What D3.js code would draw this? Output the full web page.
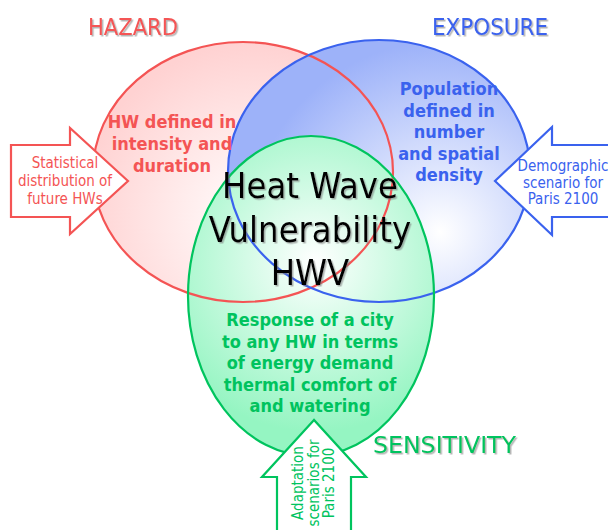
<!DOCTYPE html>
<html>
<head>
<meta charset="utf-8">
<script src="https://cdn.jsdelivr.net/npm/d3@7/dist/d3.min.js"></script>
<style>
  body { margin: 0; background: #fff; }
  text { font-family: "DejaVu Sans Condensed", "DejaVu Sans", sans-serif; font-stretch: condensed; }
</style>
</head>
<body>
<div id="chart"></div>
<script>
// the three sets of the diagram
var setNames = ["HAZARD", "EXPOSURE", "SENSITIVITY"];
var setLines = [
  ["HW defined in", "intensity and", "duration"],
  ["Population", "defined in", "number", "and spatial", "density"],
  ["Response of a city", "to any HW in terms", "of energy demand", "thermal comfort of", "and watering"]
];
var centerLines = ["Heat Wave", "Vulnerability", "HWV"];
var arrowLines = [
  ["Statistical", "distribution of", "future HWs"],
  ["Demographic", "scenario for", "Paris 2100"],
  ["Adaptation", "scenarios for", "Paris 2100"]
];
var strokeColors = ["#f45454", "#3a62ee", "#00c45e"];
var edgeColors = ["#ffd2d2", "#9db2f9", "#95f5c2"];
var textColors = ["#f45454", "#3a62ee", "#00c35e"];

var width = 608, height = 530;

// layout of the ellipses (pixel space)
var ellipses = [
  {cx: 243, cy: 172, rx: 150, ry: 130, gx: 255, gy: 218, gr: 175},
  {cx: 379, cy: 171, rx: 151, ry: 131, gx: 440, gy: 232, gr: 190},
  {cx: 311, cy: 296, rx: 123, ry: 160, gx: 315, gy: 262, gr: 170}
];

var svg = d3.select("#chart").append("svg")
    .attr("width", width)
    .attr("height", height);

var defs = svg.append("defs");

ellipses.forEach(function(e, i) {
  var g = defs.append("radialGradient")
      .attr("id", "grad" + i)
      .attr("gradientUnits", "userSpaceOnUse")
      .attr("cx", e.gx).attr("cy", e.gy).attr("r", e.gr);
  g.append("stop").attr("offset", "0%").attr("stop-color", "#ffffff");
  g.append("stop").attr("offset", "100%").attr("stop-color", edgeColors[i]);
});

var shadow = defs.append("filter").attr("id", "shadow")
    .attr("x", "-10%").attr("y", "-20%").attr("width", "130%").attr("height", "150%");
shadow.append("feDropShadow")
    .attr("dx", 1.5).attr("dy", 1.5).attr("stdDeviation", 0.6)
    .attr("flood-color", "#777").attr("flood-opacity", 0.55);

//fills first, outlines over all fills
svg.append("g").selectAll("ellipse")
    .data(ellipses)
  .enter().append("ellipse")
    .attr("cx", function(d) { return d.cx; })
    .attr("cy", function(d) { return d.cy; })
    .attr("rx", function(d) { return d.rx; })
    .attr("ry", function(d) { return d.ry; })
    .attr("fill", function(d, i) { return "url(#grad" + i + ")"; });

svg.append("g").selectAll("ellipse")
    .data(ellipses)
  .enter().append("ellipse")
    .attr("cx", function(d) { return d.cx; })
    .attr("cy", function(d) { return d.cy; })
    .attr("rx", function(d) { return d.rx; })
    .attr("ry", function(d) { return d.ry; })
    .attr("fill", "none")
    .attr("stroke", function(d, i) { return strokeColors[i]; })
    .attr("stroke-width", 2.2);

//block arrows: tip, direction angle, head length, head half width, shaft half width, shaft length
var arrows = [
  {x: 128, y: 181, angle: 0, head: 58, headHalf: 53, shaftHalf: 36, shaft: 59},
  {x: 495, y: 181, angle: 180, head: 57, headHalf: 54, shaftHalf: 36, shaft: 90},
  {x: 314, y: 420, angle: -90, head: 57, headHalf: 52, shaftHalf: 37, shaft: 90}
];

function arrowPoints(a) {
  // arrow pointing along +x with tip at origin
  var pts = [
    [0, 0],
    [-a.head, -a.headHalf],
    [-a.head, -a.shaftHalf],
    [-a.head - a.shaft, -a.shaftHalf],
    [-a.head - a.shaft, a.shaftHalf],
    [-a.head, a.shaftHalf],
    [-a.head, a.headHalf]
  ];
  var r = a.angle * Math.PI / 180;
  return pts.map(function(p) {
    return [a.x + p[0] * Math.cos(r) - p[1] * Math.sin(r),
            a.y + p[0] * Math.sin(r) + p[1] * Math.cos(r)];
  });
}

svg.append("g").selectAll("polygon")
    .data(arrows)
  .enter().append("polygon")
    .attr("points", function(d) { return arrowPoints(d).join(" "); })
    .attr("fill", "#fff")
    .attr("stroke", function(d, i) { return strokeColors[i]; })
    .attr("stroke-width", 2.2)
    .attr("stroke-linejoin", "miter");

//set titles: x, baseline, width
var titlePos = [[88, 35, 90], [432, 35, 116], [373, 453, 143]];
svg.append("g").selectAll("text")
    .data(setNames)
  .enter().append("text")
    .attr("x", function(d, i) { return titlePos[i][0]; })
    .attr("y", function(d, i) { return titlePos[i][1]; })
    .attr("textLength", function(d, i) { return titlePos[i][2]; })
    .attr("lengthAdjust", "spacingAndGlyphs")
    .attr("font-size", "23px")
    .attr("fill", function(d, i) { return textColors[i]; })
    .attr("filter", "url(#shadow)")
    .text(function(d) { return d; });

function lineBlock(lines, x, y0, step, size, color, weight) {
  var t = svg.append("text")
      .attr("text-anchor", "middle")
      .attr("font-size", size + "px")
      .attr("font-weight", weight)
      .attr("fill", color);
  t.selectAll("tspan")
      .data(lines)
    .enter().append("tspan")
      .attr("x", x)
      .attr("y", function(d, i) { return y0 + i * step; })
      .text(function(d) { return d; });
  return t;
}

//set descriptions
lineBlock(setLines[0], 172, 128, 22, 18, textColors[0], "bold");
lineBlock(setLines[1], 449, 95, 21.5, 18, textColors[1], "bold");
lineBlock(setLines[2], 310, 326, 21.5, 18, textColors[2], "bold");

//center label
lineBlock(centerLines, 310, 198, 43.5, 36, "#000", "normal")
    .attr("filter", "url(#shadow)");

//arrow labels
lineBlock(arrowLines[0], 65, 168, 18, 15, textColors[0], "normal");
lineBlock(arrowLines[1], 563, 171, 16.5, 15, textColors[1], "normal");
lineBlock(arrowLines[2], 0, 0, 15.5, 15, textColors[2], "normal")
    .attr("transform", "translate(303,483) rotate(-90)")
    .selectAll("tspan").attr("y", function(d, i) { return i * 15.5; });
</script>
</body>
</html>
